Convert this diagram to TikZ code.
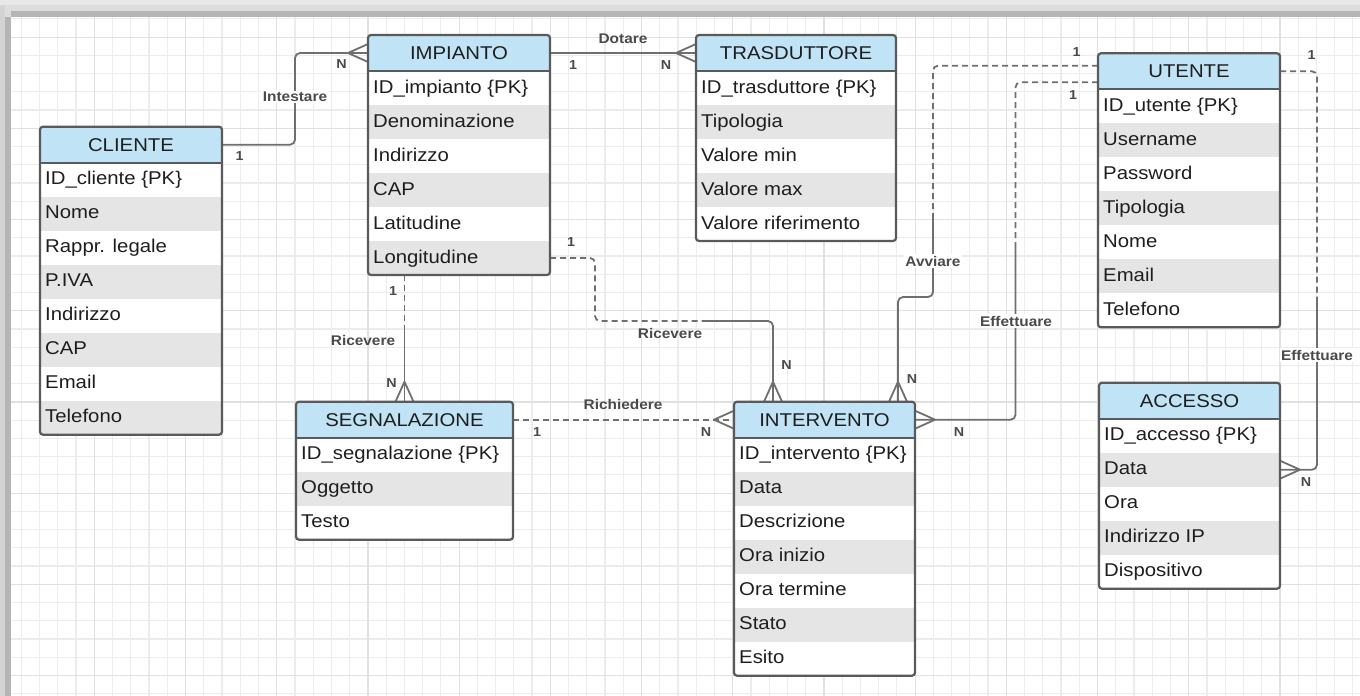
\documentclass[tikz,border=0pt]{standalone}
\usepackage{fontspec}
\setmainfont{Liberation Sans}[FakeStretch=1.1]
\usetikzlibrary{calc}
\definecolor{hdr}{HTML}{C1E3F6}
\definecolor{rowg}{HTML}{E5E5E5}
\definecolor{bord}{HTML}{5A5A5A}
\definecolor{connc}{HTML}{6F6F6F}
\definecolor{lblc}{HTML}{4A4A4A}
\definecolor{txtc}{HTML}{1E1E1E}
\definecolor{gminor}{HTML}{ECECEC}
\definecolor{gmajor}{HTML}{E0E0E0}
\definecolor{fra}{HTML}{E8E8E8}
\definecolor{frb}{HTML}{DDDDDD}
\definecolor{frc}{HTML}{B5B5B5}
\definecolor{frd}{HTML}{D4D4D4}
\tikzset{
 conn/.style={draw=connc, line width=1.8pt},
 dsh/.style={dash pattern=on 6pt off 4pt},
 lbl/.style={font=\bfseries\fontsize{14}{16}\selectfont, text=lblc, inner sep=1.5pt},
 onl/.style={lbl, fill=white},
 card/.style={font=\bfseries\fontsize{13}{15}\selectfont, text=lblc, inner sep=0pt},
 rowtext/.style={font=\fontsize{18.5}{20}\selectfont, text=txtc, inner sep=0pt},
 hdrtext/.style={font=\fontsize{18.5}{20}\selectfont, text=txtc},
 tabbox/.style={draw=bord, line width=2.2pt, rounded corners=3pt, inner sep=0pt, outer sep=0pt},
}
\newcommand\ertab[7]{%
  \pgfmathsetmacro\tabH{36+#5*34}
  \begin{scope}
    \clip[rounded corners=3pt] (#2,#3) rectangle ++(#4,\tabH);
    \fill[white] (#2,#3) rectangle ++(#4,\tabH);
    \fill[hdr] (#2,#3) rectangle ++(#4,36);
    \foreach \rr [count=\ii] in {#7} {
      \ifodd\ii\relax\else\fill[rowg] (#2,#3+36+\ii*34-34) rectangle ++(#4,34);\fi
    }
  \end{scope}
  \foreach \rr [count=\ii] in {#7} {
     \node[rowtext, anchor=base west] (#1r\ii) at (#2+5,#3+36+\ii*34-17+5) {\rr};
  }
  \node[tabbox, minimum width=#4pt, minimum height=\tabH pt, anchor=north west] (#1) at (#2,#3) {};
  \draw[draw=bord, line width=2pt] (#2,#3+36) -- ++(#4,0);
  \node[hdrtext, minimum width=#4pt, minimum height=36pt, inner sep=0pt, outer sep=0pt] (#1H) at (#2+#4/2,#3+18) {#6};
}
\newcommand\crowfoot[3]{%
  \draw[conn] ($(#1)+(20*#2,20*#3)$) -- ($(#1)+(9*#3,9*#2)$);
  \draw[conn] ($(#1)+(20*#2,20*#3)$) -- ($(#1)+(-9*#3,-9*#2)$);
}
\begin{document}
\begin{tikzpicture}[x=1pt,y=-1pt]
\useasboundingbox (0,0) rectangle (1360,696);
% grid
\foreach \i in {0,...,74} {\draw[gminor, line width=1.2pt] ({3.1+\i*18.24},0) -- ({3.1+\i*18.24},696);}
\foreach \i in {0,...,38} {\draw[gminor, line width=1.2pt] (0,{0.62+\i*18.24}) -- (1360,{0.62+\i*18.24});}
\foreach \i in {0,5,...,70} {\draw[gmajor, line width=1.2pt] ({3.1+\i*18.24},0) -- ({3.1+\i*18.24},696);}
\foreach \i in {2,7,...,37} {\draw[gmajor, line width=1.2pt] (0,{0.62+\i*18.24}) -- (1360,{0.62+\i*18.24});}
% frame
\fill[fra] (0,0) rectangle (1360,5);
\fill[frb] (0,5) rectangle (1360,11);
\fill[frc] (11,11) rectangle (1360,17);
\fill[frd] (0,5) rectangle (5,696);
\fill[frb] (5,11) rectangle (11,17);
\fill[frc] (5,17) rectangle (11,696);

% coordinates for connector bends
\coordinate (bIn) at (295,53);
\coordinate (r1m) at (404.5,325);
\coordinate (r2m) at (705,321);
\coordinate (avA) at (933,215);
\coordinate (avB) at (898,297);
\coordinate (efA) at (1015.5,245);
\coordinate (efB) at (1317,300);

% tables placed first invisibly (named nodes for anchors)
\begin{scope}[opacity=0]
\ertab{cli}{40}{126.7}{182}{8}{CLIENTE}{ID\_cliente \{PK\},Nome,Rappr. legale,P.IVA,Indirizzo,CAP,Email,Telefono}
\ertab{imp}{368}{35}{182}{6}{IMPIANTO}{ID\_impianto \{PK\},Denominazione,Indirizzo,CAP,Latitudine,Longitudine}
\ertab{tra}{696}{35}{200}{5}{TRASDUTTORE}{ID\_trasduttore \{PK\},Tipologia,Valore min,Valore max,Valore riferimento}
\ertab{ut}{1098}{53.3}{182}{7}{UTENTE}{ID\_utente \{PK\},Username,Password,Tipologia,Nome,Email,Telefono}
\ertab{acc}{1099}{382.7}{181}{5}{ACCESSO}{ID\_accesso \{PK\},Data,Ora,Indirizzo IP,Dispositivo}
\ertab{seg}{296}{401.7}{217}{3}{SEGNALAZIONE}{ID\_segnalazione \{PK\},Oggetto,Testo}
\ertab{int}{734}{401.7}{181}{7}{INTERVENTO}{ID\_intervento \{PK\},Data,Descrizione,Ora inizio,Ora termine,Stato,Esito}
\end{scope}

\coordinate (r2a) at ($(imp.south east)+(0,-17)$);
\coordinate (r2b) at ($(int.north west)+(39,0)$);
\coordinate (avS) at ($(utH.west)+(0,-5.6)$);
\coordinate (avE) at ($(int.north west)+(164,0)$);
\coordinate (efS) at ($(utH.west)+(0,11)$);
\coordinate (acS) at (utH.east);
\coordinate (acE) at ($(acc.north east)+(0,87)$);

% Intestare
\draw[conn, rounded corners=5pt] (cliH.east) -| (bIn) -- (impH.west);
\crowfoot{impH.west}{-1}{0}
\node[onl] (lInt) at (295,97) {Intestare};
\node[card] (cInt1) at (239.5,156.5) {1};
\node[card] (cIntN) at (341.5,64.5) {N};
% Dotare
\draw[conn] (impH.east) -- (traH.west);
\crowfoot{traH.west}{-1}{0}
\node[lbl] (lDot) at (623,39) {Dotare};
\node[card] (cDot1) at (573,65) {1};
\node[card] (cDotN) at (666,65) {N};
% Ricevere (impianto - segnalazione)
\draw[conn, dsh] (imp.south -| seg.north) -- (r1m);
\draw[conn] (r1m) -- (seg.north);
\crowfoot{seg.north}{0}{-1}
\node[lbl] (lRic1) at (363,340) {Ricevere};
\node[card] (cRic1) at (393,291) {1};
\node[card] (cRicN) at (391.5,383) {N};
% Ricevere (impianto - intervento)
\draw[conn, dsh, rounded corners=5pt] (r2a) -- ++(45,0) |- (r2m);
\draw[conn, rounded corners=5pt] (r2m) -| (r2b);
\crowfoot{r2b}{0}{-1}
\node[lbl] (lRic2) at (670,333) {Ricevere};
\node[card] (cRic21) at (571,242) {1};
\node[card] (cRic2N) at (786.5,365) {N};
% Richiedere
\draw[conn, dsh] (segH.east) -- (intH.west);
\crowfoot{intH.west}{-1}{0}
\node[lbl] (lRich) at (623,404) {Richiedere};
\node[card] (cRich1) at (537,432) {1};
\node[card] (cRichN) at (706,432) {N};
% Avviare
\draw[conn, dsh, rounded corners=5pt] (avS) -| (avA);
\draw[conn, rounded corners=5pt] (avA) |- (avB) -- (avE);
\crowfoot{avE}{0}{-1}
\node[onl] (lAvv) at (933,261) {Avviare};
\node[card] (cAvv1) at (1076.5,52) {1};
\node[card] (cAvvN) at (912,379) {N};
% Effettuare (utente - intervento)
\draw[conn, dsh, rounded corners=5pt] (efS) -| (efA);
\draw[conn, rounded corners=5pt] (efA) |- (intH.east);
\crowfoot{intH.east}{1}{0}
\node[onl] (lEff1) at (1016,321) {Effettuare};
\node[card] (cEff1) at (1073,95) {1};
\node[card] (cEffN) at (959,432) {N};
% Effettuare (utente - accesso)
\draw[conn, dsh, rounded corners=5pt] (acS) -| (efB);
\draw[conn, rounded corners=5pt] (efB) |- (acE);
\crowfoot{acE}{1}{0}
\node[onl] (lEff2) at (1317,355) {Effettuare};
\node[card] (cEff21) at (1311.5,55) {1};
\node[card] (cEff2N) at (1306,482) {N};

% visible tables
\ertab{cliV}{40}{126.7}{182}{8}{CLIENTE}{ID\_cliente \{PK\},Nome,Rappr. legale,P.IVA,Indirizzo,CAP,Email,Telefono}
\ertab{impV}{368}{35}{182}{6}{IMPIANTO}{ID\_impianto \{PK\},Denominazione,Indirizzo,CAP,Latitudine,Longitudine}
\ertab{traV}{696}{35}{200}{5}{TRASDUTTORE}{ID\_trasduttore \{PK\},Tipologia,Valore min,Valore max,Valore riferimento}
\ertab{utV}{1098}{53.3}{182}{7}{UTENTE}{ID\_utente \{PK\},Username,Password,Tipologia,Nome,Email,Telefono}
\ertab{accV}{1099}{382.7}{181}{5}{ACCESSO}{ID\_accesso \{PK\},Data,Ora,Indirizzo IP,Dispositivo}
\ertab{segV}{296}{401.7}{217}{3}{SEGNALAZIONE}{ID\_segnalazione \{PK\},Oggetto,Testo}
\ertab{intV}{734}{401.7}{181}{7}{INTERVENTO}{ID\_intervento \{PK\},Data,Descrizione,Ora inizio,Ora termine,Stato,Esito}
\end{tikzpicture}
\end{document}
